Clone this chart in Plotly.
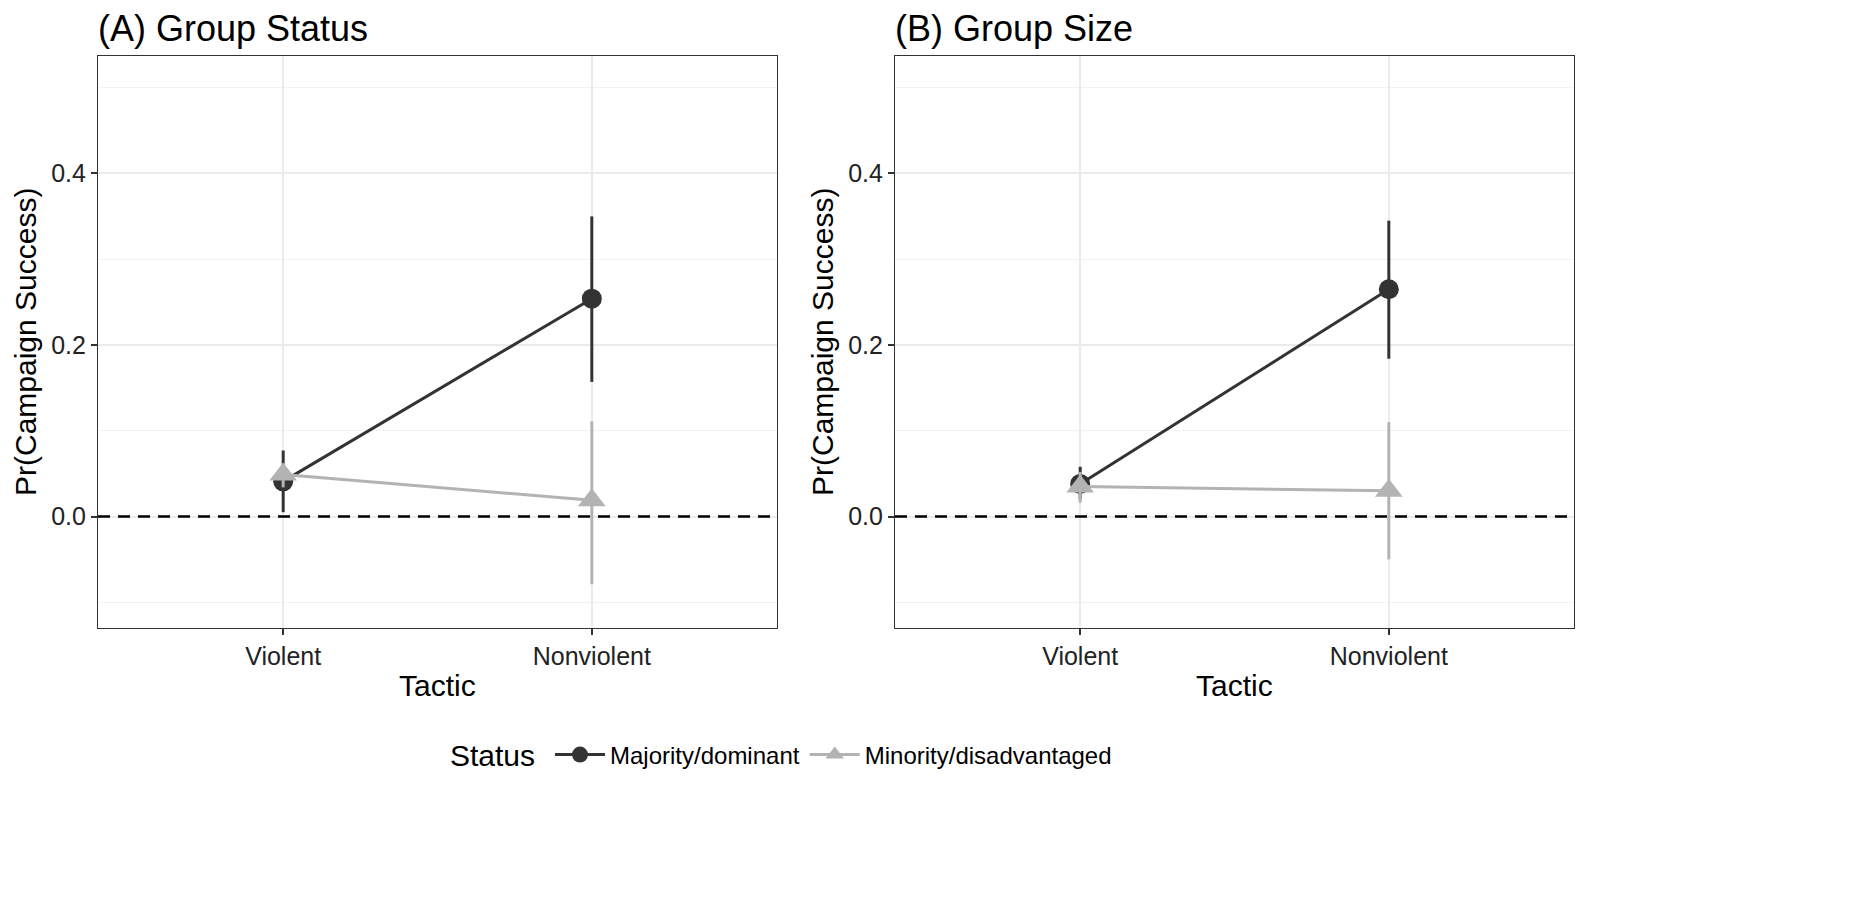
import plotly.graph_objects as go

tactics = ["Violent", "Nonviolent"]
groups = ["Majority/dominant", "Minority/disadvantaged"]
panel_titles = ["(A) Group Status", "(B) Group Size"]

# Panel A (Group Status)
a_maj = [0.041, 0.254]
a_maj_lo = [0.005, 0.157]
a_maj_hi = [0.077, 0.350]
a_min = [0.049, 0.019]
a_min_lo = [0.034, -0.079]
a_min_hi = [0.062, 0.111]

# Panel B (Group Size)
b_maj = [0.038, 0.265]
b_maj_lo = [0.020, 0.184]
b_maj_hi = [0.058, 0.345]
b_min = [0.035, 0.030]
b_min_lo = [0.016, -0.050]
b_min_hi = [0.052, 0.110]

y_ticks = [0.0, 0.2, 0.4]
y_minor = [-0.1, 0.1, 0.3, 0.5]

colors = ["#333333", "#B3B3B3"]
symbols = ["circle", "triangle-up"]
sizes = [20, 24]

W, H = 1851, 913
FONT = "Liberation Sans, Arial, Helvetica, sans-serif"

panels = [
    (a_maj, a_maj_lo, a_maj_hi, a_min, a_min_lo, a_min_hi),
    (b_maj, b_maj_lo, b_maj_hi, b_min, b_min_lo, b_min_hi),
]
xdomains = [(90 / W, 769 / W), (887 / W, 1566 / W)]
ydomain = (1 - 620 / H, 1 - 48 / H)

fig = go.Figure()

for p, data in enumerate(panels):
    xa = "x" if p == 0 else "x2"
    ya = "y" if p == 0 else "y2"
    series = [(data[0], data[1], data[2]), (data[3], data[4], data[5])]
    for g, (vals, lo, hi) in enumerate(series):
        fig.add_trace(go.Scatter(
            x=tactics, y=vals, xaxis=xa, yaxis=ya,
            mode="lines+markers", name=groups[g],
            legendgroup=groups[g], showlegend=(p == 0),
            line=dict(color=colors[g], width=3),
            marker=dict(color=colors[g], symbol=symbols[g], size=sizes[g]),
            error_y=dict(type="data", symmetric=False,
                         array=[h - v for h, v in zip(hi, vals)],
                         arrayminus=[v - l for v, l in zip(vals, lo)],
                         color=colors[g], thickness=3, width=0),
        ))

axis_common = dict(
    showline=True, mirror=True, linecolor="#333333", linewidth=1.2,
    ticks="outside", ticklen=6, tickcolor="#333333", tickwidth=1.5,
    tickfont=dict(family=FONT, size=25, color="#222222"),
    showgrid=True, gridcolor="#EBEBEB", gridwidth=2, zeroline=False,
)

for p in range(2):
    sfx = "" if p == 0 else "2"
    fig.layout["xaxis" + sfx] = dict(
        axis_common, domain=xdomains[p], anchor="y" + sfx,
        type="category", categoryorder="array", categoryarray=tactics,
        range=[-0.6, 1.6],
    )
    fig.layout["yaxis" + sfx] = dict(
        axis_common, domain=ydomain, anchor="x" + sfx,
        range=[-0.13, 0.537], tickvals=y_ticks,
        ticktext=[f"{v:.1f}" for v in y_ticks],
        minor=dict(tickvals=y_minor, showgrid=True, gridcolor="#F2F2F2",
                   gridwidth=1.2, ticklen=0),
    )
    # dashed zero line
    fig.add_shape(type="line", xref="x" + sfx + " domain", yref="y" + sfx,
                  x0=0, x1=1, y0=0, y1=0,
                  line=dict(color="black", width=2.5, dash="12px,8px"))

annotations = []
for p in range(2):
    x0, x1 = xdomains[p]
    annotations.append(dict(text=panel_titles[p], xref="paper", yref="paper",
                            x=x0 - 2 / W, y=1 - 20 / H, xanchor="left", yanchor="middle",
                            showarrow=False,
                            font=dict(family=FONT, size=36, color="black")))
    annotations.append(dict(text="Tactic", xref="paper", yref="paper",
                            x=(x0 + x1) / 2, y=1 - 677 / H, xanchor="center",
                            yanchor="middle", showarrow=False,
                            font=dict(family=FONT, size=30, color="black")))
    annotations.append(dict(text="Pr(Campaign Success)", xref="paper", yref="paper",
                            x=(18 if p == 0 else 815) / W, y=1 - 334 / H,
                            xanchor="center", yanchor="middle", textangle=-90,
                            showarrow=False,
                            font=dict(family=FONT, size=30, color="black")))

# legend title
annotations.append(dict(text="Status", xref="paper", yref="paper",
                        x=440 / W, y=1 - 747 / H, xanchor="left", yanchor="middle",
                        showarrow=False,
                        font=dict(family=FONT, size=30, color="black")))

fig.update_layout(
    width=W, height=H,
    margin=dict(l=0, r=0, t=0, b=0),
    paper_bgcolor="white", plot_bgcolor="white",
    font=dict(family=FONT, color="black"),
    annotations=annotations,
    legend=dict(
        orientation="h", x=542 / W, y=1 - 747 / H,
        xanchor="left", yanchor="middle",
        font=dict(family=FONT, size=24, color="black"),
        itemwidth=50, tracegroupgap=0,
    ),
)

fig.write_html("out.html")
